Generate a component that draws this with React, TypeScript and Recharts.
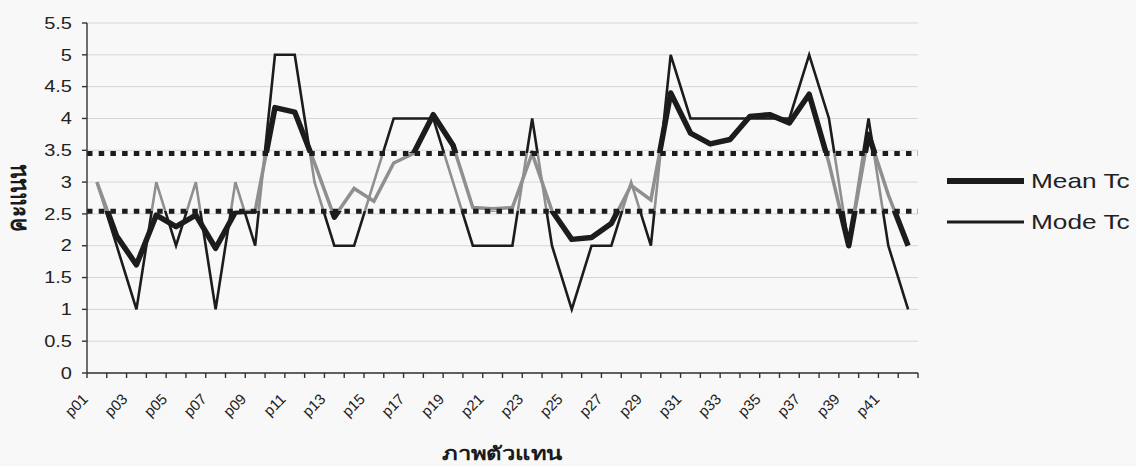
import React from 'react';
import { LineChart, Line, XAxis, YAxis, CartesianGrid, ReferenceLine, Legend } from 'recharts';

const categories = [
  'p01', 'p02', 'p03', 'p04', 'p05', 'p06', 'p07', 'p08', 'p09', 'p10',
  'p11', 'p12', 'p13', 'p14', 'p15', 'p16', 'p17', 'p18', 'p19', 'p20',
  'p21', 'p22', 'p23', 'p24', 'p25', 'p26', 'p27', 'p28', 'p29', 'p30',
  'p31', 'p32', 'p33', 'p34', 'p35', 'p36', 'p37', 'p38', 'p39', 'p40',
  'p41', 'p42',
];

const meanTc = [
  3.0, 2.15, 1.7, 2.48, 2.3, 2.48, 1.96, 2.53, 2.55, 4.17,
  4.1, 3.3, 2.45, 2.9, 2.7, 3.3, 3.45, 4.06, 3.58, 2.6,
  2.58, 2.6, 3.45, 2.55, 2.1, 2.13, 2.35, 2.95, 2.72, 4.4,
  3.77, 3.6, 3.67, 4.03, 4.06, 3.93, 4.38, 3.3, 2.0, 3.75,
  2.8, 2.0,
];

const modeTc = [
  3, 2, 1, 3, 2, 3, 1, 3, 2, 5,
  5, 3, 2, 2, 3, 4, 4, 4, 3, 2,
  2, 2, 4, 2, 1, 2, 2, 3, 2, 5,
  4, 4, 4, 4, 4, 4, 5, 4, 2, 4,
  2, 1,
];

const yTicks = [0, 0.5, 1, 1.5, 2, 2.5, 3, 3.5, 4, 4.5, 5, 5.5];
const upperLimit = 3.45;
const lowerLimit = 2.54;

const seriesNames = { mean: 'Mean Tc', mode: 'Mode Tc' };
const yTitle = 'คะแนน';
const xTitle = 'ภาพตัวแทน';

const data = categories.map((c, i) => ({ idx: i + 1, cat: c, mean: meanTc[i], mode: modeTc[i] }));

// tick marks at category boundaries (x.5) and label slots at category centres
const xTicks: number[] = [];
for (let i = 0; i <= categories.length; i++) {
  xTicks.push(i + 0.5);
  if (i < categories.length) xTicks.push(i + 1);
}

const FONT = "'Liberation Sans', Arial, sans-serif";
const DARK = '#1c1c1c';
const BAND_GRAY = '#8f8f8f';
const widths: Record<string, number> = { mean: 5.5, mode: 2.6 };

function bandStops(values: number[], outside: string, outOp: number, inside: string, inOp: number) {
  const mx = Math.max(...values);
  const mn = Math.min(...values);
  const off = (v: number) => Math.min(1, Math.max(0, (mx - v) / (mx - mn)));
  return [
    { o: 0, c: outside, a: outOp },
    { o: off(upperLimit), c: outside, a: outOp },
    { o: off(upperLimit), c: inside, a: inOp },
    { o: off(lowerLimit), c: inside, a: inOp },
    { o: off(lowerLimit), c: outside, a: outOp },
    { o: 1, c: outside, a: outOp },
  ];
}

function XLabel(props: any) {
  const { x, y, payload } = props;
  const v = Number(payload.value);
  if (!Number.isInteger(v)) {
    return <line x1={x} x2={x} y1={y} y2={y + 5} stroke="#333" strokeWidth={1.4} />;
  }
  if (v % 2 === 0) return <g />;
  const ax = Number(x) - 8;
  const ay = Number(y) + 27;
  return (
    <g transform={`translate(${ax},${ay})`}>
      <text transform="rotate(-45)" x={0} y={0} textAnchor="end" fontSize={15} fontFamily={FONT} fill="#222">
        {categories[v - 1]}
      </text>
    </g>
  );
}

function YTick(props: any) {
  const { x, y, payload } = props;
  return (
    <g>
      <line x1={x - 5} x2={x} y1={y} y2={y} stroke="#333" strokeWidth={1.4} />
      <text
        transform={`translate(${x - 15},${y}) scale(1.25,1)`}
        textAnchor="end"
        dy="0.36em"
        fontSize={16}
        fontFamily={FONT}
        fill="#222"
      >
        {payload.value}
      </text>
    </g>
  );
}

const renderLegend = (props: any) => (
  <div>
    {(props.payload || [])
      .filter((e: any) => e.type !== 'none' && (e.dataKey === 'mean' || e.dataKey === 'mode'))
      .map((e: any) => (
        <div key={e.value} style={{ display: 'flex', alignItems: 'center', height: 41 }}>
          <svg width={84} height={12} style={{ flex: 'none' }}>
            <line x1={0} x2={77} y1={6} y2={6} stroke={DARK} strokeWidth={widths[e.dataKey] + 0.5} />
          </svg>
          <span
            style={{
              fontFamily: FONT,
              fontSize: 21,
              color: '#222',
              display: 'inline-block',
              transform: 'scaleX(1.25)',
              transformOrigin: 'left center',
              whiteSpace: 'nowrap',
            }}
          >
            {e.value}
          </span>
        </div>
      ))}
  </div>
);

export default function App() {
  const meanDark = bandStops(meanTc, DARK, 1, DARK, 0);
  const meanGray = bandStops(meanTc, BAND_GRAY, 0, BAND_GRAY, 1);
  const modeStops = bandStops(modeTc, DARK, 1, BAND_GRAY, 1);
  const grads: [string, ReturnType<typeof bandStops>][] = [
    ['meanDarkGrad', meanDark],
    ['meanGrayGrad', meanGray],
    ['modeGrad', modeStops],
  ];
  return (
    <div style={{ position: 'absolute', left: 0, top: 0, width: 1136, height: 466, background: '#f8f8f8' }}>
      <LineChart width={1136} height={466} data={data} margin={{ top: 23, right: 218, bottom: 0, left: 0 }}>
        <defs>
          {grads.map(([id, stops]) => (
            <linearGradient key={id} id={id} x1="0" y1="0" x2="0" y2="1">
              {stops.map((s, i) => (
                <stop key={i} offset={s.o} stopColor={s.c} stopOpacity={s.a} />
              ))}
            </linearGradient>
          ))}
        </defs>
        <CartesianGrid vertical={false} stroke="#d6d6d6" strokeWidth={1} />
        <XAxis
          dataKey="idx"
          type="number"
          domain={[0.5, categories.length + 0.5]}
          ticks={xTicks}
          interval={0}
          tick={(p: any) => <XLabel {...p} />}
          tickLine={false}
          tickSize={0}
          tickMargin={0}
          height={93}
          axisLine={{ stroke: '#333', strokeWidth: 1.4 }}
          allowDecimals
          label={{
            content: (p: any) => {
              const vb = p.viewBox || {};
              return (
                <text
                  transform={`translate(${vb.x + vb.width / 2},${vb.y + 87}) scale(1.25,1)`}
                  textAnchor="middle"
                  fontSize={19}
                  fontWeight="bold"
                  fontFamily={FONT}
                  fill="#1a1a1a"
                >
                  {xTitle}
                </text>
              );
            },
          }}
        />
        <YAxis
          type="number"
          domain={[0, 5.5]}
          ticks={yTicks}
          interval={0}
          width={87}
          tick={(p: any) => <YTick {...p} />}
          tickLine={false}
          tickSize={0}
          tickMargin={0}
          axisLine={{ stroke: '#333', strokeWidth: 1.4 }}
          label={{
            content: (p: any) => {
              const vb = p.viewBox || {};
              return (
                <text
                  transform={`translate(${vb.x + 17},${vb.y + vb.height / 2}) scale(1.25,1) rotate(-90)`}
                  textAnchor="middle"
                  dy="0.35em"
                  fontSize={21}
                  fontWeight="bold"
                  fontFamily={FONT}
                  fill="#1a1a1a"
                >
                  {yTitle}
                </text>
              );
            },
          }}
        />
        <Line
          type="linear"
          dataKey="mode"
          name={seriesNames.mode}
          stroke="url(#modeGrad)"
          strokeWidth={widths.mode}
          dot={false}
          activeDot={false}
          isAnimationActive={false}
          strokeLinejoin="miter"
        />
        <Line
          type="linear"
          dataKey="mean"
          name="mean-band"
          legendType="none"
          stroke="url(#meanGrayGrad)"
          strokeWidth={3.5}
          dot={false}
          activeDot={false}
          isAnimationActive={false}
        />
        <Line
          type="linear"
          dataKey="mean"
          name={seriesNames.mean}
          stroke="url(#meanDarkGrad)"
          strokeWidth={widths.mean}
          dot={false}
          activeDot={false}
          isAnimationActive={false}
          strokeLinejoin="round"
        />
        <ReferenceLine y={upperLimit} stroke={DARK} strokeWidth={5} strokeDasharray="5.5 6.2" />
        <ReferenceLine y={lowerLimit} stroke={DARK} strokeWidth={5} strokeDasharray="5.5 6.2" />
        <Legend
          layout="vertical"
          align="center"
          verticalAlign="middle"
          content={renderLegend}
          wrapperStyle={{ position: 'absolute', left: 947, top: 160, width: 189, height: 82 }}
        />
      </LineChart>
    </div>
  );
}
